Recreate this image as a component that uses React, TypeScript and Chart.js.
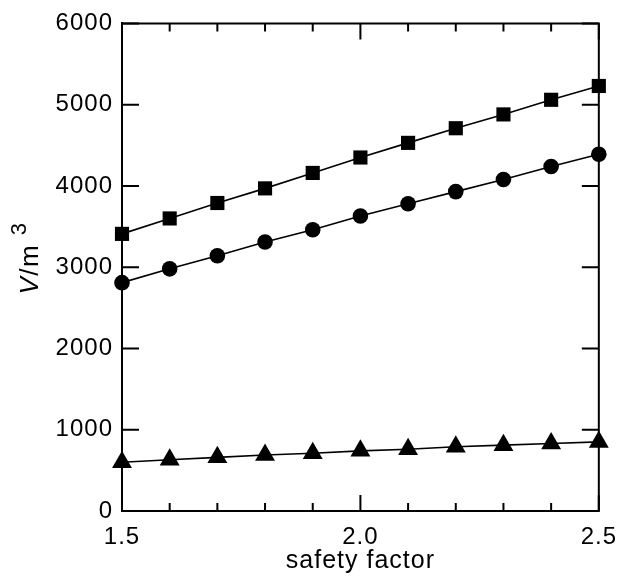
import React, { useEffect, useRef } from "react";
import { Chart, registerables } from "chart.js";

Chart.register(...registerables);

const safetyFactor = [1.5, 1.6, 1.7, 1.8, 1.9, 2.0, 2.1, 2.2, 2.3, 2.4, 2.5];
const squareSeries = [3410, 3600, 3790, 3970, 4160, 4350, 4530, 4710, 4880, 5060, 5230];
const circleSeries = [2810, 2980, 3140, 3310, 3460, 3630, 3780, 3930, 4080, 4240, 4390];
const triangleSeries = [600, 630, 660, 690, 710, 740, 760, 790, 810, 830, 850];
const xMajorTicks = [1.5, 2.0, 2.5];
const xMinorTicks = [1.6, 1.7, 1.8, 1.9, 2.1, 2.2, 2.3, 2.4];
const yMajorTicks = [0, 1000, 2000, 3000, 4000, 5000, 6000];

const FONT = "'Liberation Sans', Arial, Helvetica, sans-serif";
const SPACING = "1px";

const framePlugin = {
  id: "frameTicks",
  beforeInit(chart: any) {
    chart.ctx.letterSpacing = SPACING;
  },
  beforeLayout(chart: any) {
    chart.ctx.letterSpacing = SPACING;
  },
  beforeDraw(chart: any) {
    chart.ctx.letterSpacing = SPACING;
  },
  beforeDatasetsDraw(chart: any) {
    const { ctx, chartArea } = chart;
    const xs = chart.scales.x;
    const ys = chart.scales.y;
    const { left, right, top, bottom } = chartArea;
    ctx.save();
    ctx.strokeStyle = "#000";
    ctx.lineWidth = 2;
    ctx.beginPath();
    ctx.rect(left, top, right - left, bottom - top);
    ctx.stroke();
    ctx.beginPath();
    const drawX = (v: number, len: number) => {
      const px = xs.getPixelForValue(v);
      ctx.moveTo(px, bottom);
      ctx.lineTo(px, bottom - len);
      ctx.moveTo(px, top);
      ctx.lineTo(px, top + len);
    };
    xMajorTicks.forEach((v) => drawX(v, 16));
    xMinorTicks.forEach((v) => drawX(v, 8));
    yMajorTicks.forEach((v) => {
      const py = ys.getPixelForValue(v);
      ctx.moveTo(left, py);
      ctx.lineTo(left + 17, py);
      ctx.moveTo(right, py);
      ctx.lineTo(right - 17, py);
    });
    ctx.stroke();
    ctx.restore();
  },
  afterDraw(chart: any) {
    const { ctx } = chart;
    const cy = 258;
    ctx.save();
    ctx.letterSpacing = "1.5px";
    ctx.translate(38, cy);
    ctx.rotate(-Math.PI / 2);
    ctx.fillStyle = "#000";
    ctx.textBaseline = "alphabetic";
    ctx.textAlign = "left";
    ctx.font = `italic 26px ${FONT}`;
    const vW = ctx.measureText("V").width;
    ctx.font = `26px ${FONT}`;
    const restW = ctx.measureText("/m ").width;
    ctx.font = `22px ${FONT}`;
    const supW = ctx.measureText("3").width;
    const total = vW + restW + supW;
    let x = -total / 2;
    ctx.font = `italic 26px ${FONT}`;
    ctx.fillText("V", x, 0);
    x += vW;
    ctx.font = `26px ${FONT}`;
    ctx.fillText("/m ", x, 0);
    x += restW;
    ctx.font = `22px ${FONT}`;
    ctx.fillText("3", x, -12);
    ctx.restore();
  },
};

export default function App() {
  const ref = useRef<HTMLCanvasElement | null>(null);
  useEffect(() => {
    if (!ref.current) return;
    const mk = (data: number[], style: string, r: number) => ({
      data: safetyFactor.map((x, i) => ({ x, y: data[i] })),
      borderColor: "#000",
      backgroundColor: "#000",
      borderWidth: 1.6,
      pointStyle: style,
      pointRadius: r,
      pointBorderWidth: 0,
      pointBackgroundColor: "#000",
      clip: false as any,
      tension: 0,
    });
    const chart = new Chart(ref.current, {
      type: "line",
      data: {
        datasets: [
          mk(squareSeries, "rect", 10),
          mk(circleSeries, "circle", 7.8),
          mk(triangleSeries, "triangle", 11.5),
        ] as any,
      },
      options: {
        animation: false,
        responsive: true,
        maintainAspectRatio: false,
        layout: { padding: { top: 22, right: 18, left: 0, bottom: 0 } },
        plugins: { legend: { display: false }, tooltip: { enabled: false } },
        scales: {
          x: {
            type: "linear",
            min: 1.5,
            max: 2.5,
            grid: { display: false, drawTicks: false },
            border: { display: true, color: "#000", width: 2 },
            ticks: {
              stepSize: 0.5,
              color: "#000",
              padding: 12,
              maxRotation: 0,
              font: { family: FONT, size: 24 },
              callback: (v: any) => Number(v).toFixed(1),
            },
            title: {
              display: true,
              text: "safety factor",
              color: "#000",
              padding: { top: 0, bottom: 0 },
              font: { family: FONT, size: 25 },
            },
            afterFit: (s: any) => {
              s.height = 65;
            },
          },
          y: {
            type: "linear",
            min: 0,
            max: 6000,
            grid: { display: false, drawTicks: false },
            border: { display: true, color: "#000", width: 2 },
            ticks: {
              stepSize: 1000,
              color: "#000",
              padding: 9,
              font: { family: FONT, size: 24 },
              callback: (v: any) => String(v),
            },
            afterFit: (s: any) => {
              s.width = 122;
            },
          },
        },
      },
      plugins: [framePlugin],
    });
    return () => chart.destroy();
  }, []);
  return (
    <div style={{ position: "absolute", left: 0, top: 0, width: 629, height: 576, background: "#fff" }}>
      <canvas ref={ref} />
    </div>
  );
}
